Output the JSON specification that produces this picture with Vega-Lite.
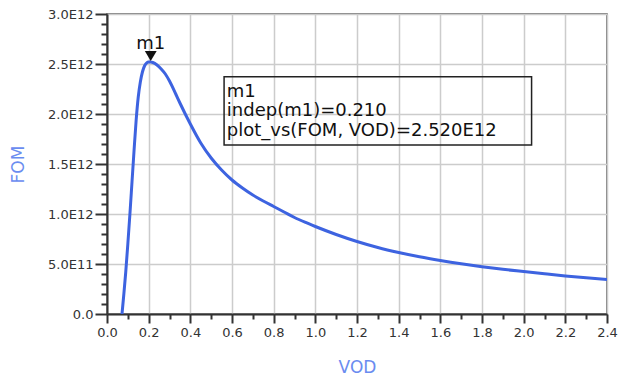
{
  "$schema": "https://vega.github.io/schema/vega-lite/v6.json",
  "width": 500,
  "height": 300,
  "autosize": {"type": "none"},
  "padding": {"left": 107, "top": 14, "right": 17, "bottom": 64},
  "background": "white",
  "config": {
    "view": {"stroke": "#555555", "strokeWidth": 1.5},
    "axis": {
      "labelFont": "DejaVu Sans",
      "labelFontSize": 13,
      "labelColor": "#333333",
      "titleFont": "DejaVu Sans",
      "titleFontSize": 17,
      "titleFontWeight": "normal",
      "titleColor": "#6a8cf0",
      "domainColor": "#333333",
      "domainWidth": 2,
      "gridColor": "#cccccc",
      "gridWidth": 1.5
    }
  },
  "datasets": {
    "curve": [
      {"VOD": 0.072, "FOM": 0},
      {"VOD": 0.08, "FOM": 0.18e12},
      {"VOD": 0.09, "FOM": 0.42e12},
      {"VOD": 0.1, "FOM": 0.7e12},
      {"VOD": 0.11, "FOM": 1.0e12},
      {"VOD": 0.12, "FOM": 1.32e12},
      {"VOD": 0.13, "FOM": 1.64e12},
      {"VOD": 0.14, "FOM": 1.94e12},
      {"VOD": 0.15, "FOM": 2.17e12},
      {"VOD": 0.16, "FOM": 2.32e12},
      {"VOD": 0.17, "FOM": 2.42e12},
      {"VOD": 0.18, "FOM": 2.48e12},
      {"VOD": 0.19, "FOM": 2.51e12},
      {"VOD": 0.2, "FOM": 2.52e12},
      {"VOD": 0.21, "FOM": 2.52e12},
      {"VOD": 0.22, "FOM": 2.515e12},
      {"VOD": 0.24, "FOM": 2.49e12},
      {"VOD": 0.26, "FOM": 2.45e12},
      {"VOD": 0.28, "FOM": 2.4e12},
      {"VOD": 0.3, "FOM": 2.33e12},
      {"VOD": 0.33, "FOM": 2.2e12},
      {"VOD": 0.35, "FOM": 2.11e12},
      {"VOD": 0.4, "FOM": 1.9e12},
      {"VOD": 0.45, "FOM": 1.71e12},
      {"VOD": 0.5, "FOM": 1.56e12},
      {"VOD": 0.55, "FOM": 1.44e12},
      {"VOD": 0.6, "FOM": 1.34e12},
      {"VOD": 0.65, "FOM": 1.26e12},
      {"VOD": 0.7, "FOM": 1.19e12},
      {"VOD": 0.75, "FOM": 1.13e12},
      {"VOD": 0.8, "FOM": 1.075e12},
      {"VOD": 0.85, "FOM": 1.02e12},
      {"VOD": 0.9, "FOM": 0.965e12},
      {"VOD": 0.95, "FOM": 0.918e12},
      {"VOD": 1.0, "FOM": 0.875e12},
      {"VOD": 1.1, "FOM": 0.795e12},
      {"VOD": 1.2, "FOM": 0.725e12},
      {"VOD": 1.3, "FOM": 0.665e12},
      {"VOD": 1.4, "FOM": 0.615e12},
      {"VOD": 1.5, "FOM": 0.572e12},
      {"VOD": 1.6, "FOM": 0.535e12},
      {"VOD": 1.7, "FOM": 0.502e12},
      {"VOD": 1.8, "FOM": 0.473e12},
      {"VOD": 1.9, "FOM": 0.447e12},
      {"VOD": 2.0, "FOM": 0.424e12},
      {"VOD": 2.1, "FOM": 0.402e12},
      {"VOD": 2.2, "FOM": 0.381e12},
      {"VOD": 2.3, "FOM": 0.362e12},
      {"VOD": 2.4, "FOM": 0.345e12}
    ],
    "marker": [{"VOD": 0.21, "FOM": 2.52e12, "name": "m1"}],
    "box": [{"x1": 0.562, "x2": 2.038, "y1": 2.373e12, "y2": 1.69e12}],
    "readout": [
      {"VOD": 0.575, "FOM": 2.173e12, "text": "m1"},
      {"VOD": 0.575, "FOM": 1.98e12, "text": "indep(m1)=0.210"},
      {"VOD": 0.575, "FOM": 1.78e12, "text": "plot_vs(FOM, VOD)=2.520E12"}
    ]
  },
  "layer": [
    {
      "data": {"name": "curve"},
      "mark": {"type": "line", "color": "#3d63e0", "strokeWidth": 3, "clip": true, "interpolate": "monotone"},
      "encoding": {
        "x": {
          "field": "VOD", "type": "quantitative",
          "scale": {"domain": [0, 2.4], "nice": false, "zero": false},
          "axis": {
            "orient": "bottom", "title": "VOD",
            "values": [0, 0.2, 0.4, 0.6, 0.8, 1.0, 1.2, 1.4, 1.6, 1.8, 2.0, 2.2, 2.4],
            "format": ".1f", "grid": true,
            "ticks": true, "tickSize": 9, "tickColor": "#333333", "tickWidth": 2, "tickOpacity": 1,
            "labelPadding": 3, "titlePadding": 20, "labelFlush": false, "labelOverlap": false
          }
        },
        "y": {
          "field": "FOM", "type": "quantitative",
          "scale": {"domain": [0, 3e12], "nice": false},
          "axis": {
            "orient": "left", "title": "FOM",
            "values": [0, 5e11, 1e12, 1.5e12, 2e12, 2.5e12, 3e12],
            "labelExpr": "datum.value == 0 ? '0.0' : replace(format(datum.value, '.1e'), 'e+', 'E')",
            "grid": true,
            "ticks": true, "tickSize": 12, "tickColor": "#333333", "tickWidth": 2, "tickOpacity": 1,
            "labelPadding": 2, "titlePadding": 20, "labelFlush": false, "labelOverlap": false
          }
        }
      }
    },
    {
      "data": {"name": "curve"},
      "mark": {"type": "line", "opacity": 0},
      "encoding": {
        "x": {
          "field": "VOD", "type": "quantitative",
          "axis": {
            "orient": "bottom", "title": null, "labels": false, "grid": false, "domain": false,
            "ticks": true, "tickSize": 5, "tickColor": "#333333", "tickWidth": 2, "tickOpacity": 1,
            "values": [0.1, 0.3, 0.5, 0.7, 0.9, 1.1, 1.3, 1.5, 1.7, 1.9, 2.1, 2.3]
          }
        },
        "y": {
          "field": "FOM", "type": "quantitative",
          "axis": {
            "orient": "left", "title": null, "labels": false, "grid": false, "domain": false,
            "ticks": true, "tickSize": 6, "tickColor": "#333333", "tickWidth": 2, "tickOpacity": 1,
            "values": [1e11, 2e11, 3e11, 4e11, 6e11, 7e11, 8e11, 9e11, 1.1e12, 1.2e12, 1.3e12, 1.4e12, 1.6e12, 1.7e12, 1.8e12, 1.9e12, 2.1e12, 2.2e12, 2.3e12, 2.4e12, 2.6e12, 2.7e12, 2.8e12, 2.9e12]
          }
        }
      }
    },
    {
      "data": {"name": "box"},
      "mark": {"type": "rect", "fill": "white", "fillOpacity": 0, "stroke": "#222222", "strokeWidth": 1.5},
      "encoding": {
        "x": {"field": "x1", "type": "quantitative", "axis": null},
        "x2": {"field": "x2"},
        "y": {"field": "y1", "type": "quantitative", "axis": null},
        "y2": {"field": "y2"}
      }
    },
    {
      "data": {"name": "readout"},
      "mark": {"type": "text", "align": "left", "baseline": "alphabetic", "font": "DejaVu Sans", "fontSize": 18, "color": "#111111"},
      "encoding": {
        "x": {"field": "VOD", "type": "quantitative", "axis": null},
        "y": {"field": "FOM", "type": "quantitative", "axis": null},
        "text": {"field": "text"}
      }
    },
    {
      "data": {"name": "marker"},
      "mark": {"type": "point", "shape": "triangle-down", "filled": true, "color": "#111111", "size": 140, "opacity": 1, "yOffset": -6},
      "encoding": {
        "x": {"field": "VOD", "type": "quantitative", "axis": null},
        "y": {"field": "FOM", "type": "quantitative", "axis": null}
      }
    },
    {
      "data": {"name": "marker"},
      "mark": {"type": "text", "align": "center", "baseline": "alphabetic", "font": "DejaVu Sans", "fontSize": 18, "color": "#111111", "dy": -13},
      "encoding": {
        "x": {"field": "VOD", "type": "quantitative", "axis": null},
        "y": {"field": "FOM", "type": "quantitative", "axis": null},
        "text": {"field": "name"}
      }
    }
  ],
  "resolve": {"axis": {"x": "independent", "y": "independent"}}
}
